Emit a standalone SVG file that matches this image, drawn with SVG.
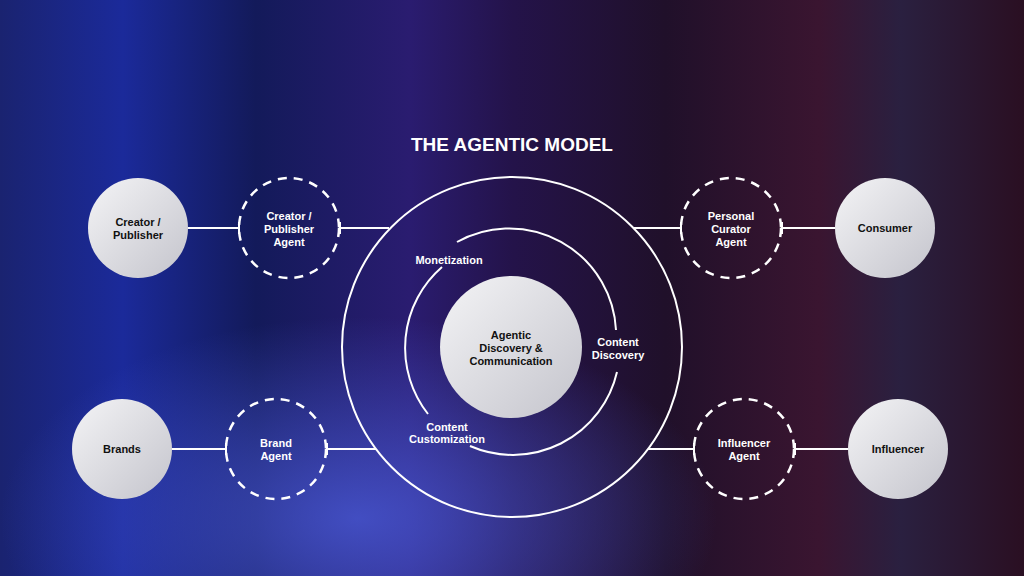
<svg xmlns="http://www.w3.org/2000/svg" width="1024" height="576" viewBox="0 0 1024 576">
<defs>
<linearGradient id="bg" x1="0" y1="0" x2="1" y2="0">
<stop offset="0" stop-color="#1a2370"/>
<stop offset="0.12" stop-color="#1b2a9a"/>
<stop offset="0.25" stop-color="#131a5a"/>
<stop offset="0.4" stop-color="#2a1c70"/>
<stop offset="0.5" stop-color="#24134a"/>
<stop offset="0.65" stop-color="#20102a"/>
<stop offset="0.8" stop-color="#3a1530"/>
<stop offset="0.88" stop-color="#2a2040"/>
<stop offset="1" stop-color="#2a0f22"/>
</linearGradient>
<radialGradient id="glow" cx="0.35" cy="0.9" r="0.35">
<stop offset="0" stop-color="#4a5ad8" stop-opacity="0.8"/>
<stop offset="1" stop-color="#4a5ad8" stop-opacity="0"/>
</radialGradient>
<linearGradient id="fill" x1="0" y1="0" x2="1" y2="1">
<stop offset="0" stop-color="#f4f4f6"/>
<stop offset="1" stop-color="#c4c4cc"/>
</linearGradient>
<style>
.solid{fill:url(#fill)}
.dash{fill:none;stroke:#fff;stroke-width:2.5;stroke-dasharray:9 7}
.ln{stroke:#fff;stroke-width:2;fill:none}
.t{font-family:"Liberation Sans",Arial,sans-serif;font-weight:bold;font-size:11px;text-anchor:middle}
.dk{fill:#111}
.wh{fill:#fff}
</style>
</defs>
<rect width="1024" height="576" fill="url(#bg)"/>
<rect width="1024" height="576" fill="url(#glow)"/>
<text x="512" y="151" class="t wh" style="font-size:19px">THE AGENTIC MODEL</text>
<g id="connectors">
<line class="ln" x1="188" y1="228" x2="239" y2="228"/><line class="ln" x1="239" y1="222" x2="239" y2="234"/>
<line class="ln" x1="340" y1="228" x2="389" y2="228"/><line class="ln" x1="340" y1="222" x2="340" y2="234"/>
<line class="ln" x1="634" y1="228" x2="681" y2="228"/><line class="ln" x1="681" y1="222" x2="681" y2="234"/>
<line class="ln" x1="782" y1="228" x2="835" y2="228"/><line class="ln" x1="782" y1="222" x2="782" y2="234"/>
<line class="ln" x1="172" y1="449" x2="226" y2="449"/><line class="ln" x1="226" y1="443" x2="226" y2="455"/>
<line class="ln" x1="327" y1="449" x2="376" y2="449"/><line class="ln" x1="327" y1="443" x2="327" y2="455"/>
<line class="ln" x1="648" y1="449" x2="694" y2="449"/><line class="ln" x1="694" y1="443" x2="694" y2="455"/>
<line class="ln" x1="795" y1="449" x2="848" y2="449"/><line class="ln" x1="795" y1="443" x2="795" y2="455"/>
</g>
<g id="hub">
<circle cx="512" cy="347" r="170" class="ln"/>
<path class="ln" d="M457 242 A107 107 0 0 1 616 330"/>
<path class="ln" d="M617 372 A107 107 0 0 1 470 446"/>
<path class="ln" d="M428 414 A107 107 0 0 1 442 267"/>
<circle cx="511" cy="347" r="71" class="solid"/>
<text class="t dk" x="511" y="339">Agentic</text>
<text class="t dk" x="511" y="352">Discovery &amp;</text>
<text class="t dk" x="511" y="365">Communication</text>
<text class="t wh" x="449" y="264">Monetization</text>
<text class="t wh" x="618" y="346">Content</text>
<text class="t wh" x="618" y="359">Discovery</text>
<text class="t wh" x="447" y="431">Content</text>
<text class="t wh" x="447" y="443">Customization</text>
</g>
<g id="creator"><circle cx="138" cy="228" r="50" class="solid"/><text class="t dk" x="138" y="226">Creator /</text><text class="t dk" x="138" y="239">Publisher</text></g>
<g id="creator-agent"><circle cx="289" cy="228" r="50" class="dash"/><text class="t wh" x="289" y="220">Creator /</text><text class="t wh" x="289" y="233">Publisher</text><text class="t wh" x="289" y="246">Agent</text></g>
<g id="curator-agent"><circle cx="731" cy="228" r="50" class="dash"/><text class="t wh" x="731" y="220">Personal</text><text class="t wh" x="731" y="233">Curator</text><text class="t wh" x="731" y="246">Agent</text></g>
<g id="consumer"><circle cx="885" cy="228" r="50" class="solid"/><text class="t dk" x="885" y="232">Consumer</text></g>
<g id="brands"><circle cx="122" cy="449" r="50" class="solid"/><text class="t dk" x="122" y="453">Brands</text></g>
<g id="brand-agent"><circle cx="276" cy="449" r="50" class="dash"/><text class="t wh" x="276" y="447">Brand</text><text class="t wh" x="276" y="460">Agent</text></g>
<g id="influencer-agent"><circle cx="744" cy="449" r="50" class="dash"/><text class="t wh" x="744" y="447">Influencer</text><text class="t wh" x="744" y="460">Agent</text></g>
<g id="influencer"><circle cx="898" cy="449" r="50" class="solid"/><text class="t dk" x="898" y="453">Influencer</text></g>
</svg>
